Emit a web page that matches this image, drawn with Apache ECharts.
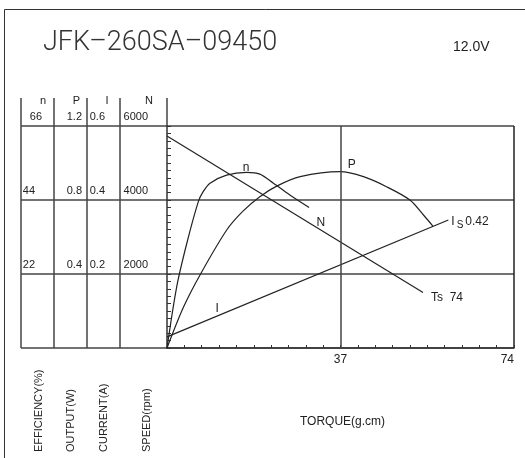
<!DOCTYPE html>
<html><head><meta charset="utf-8">
<script src="https://cdn.jsdelivr.net/npm/echarts@6/dist/echarts.min.js"></script>
<style>html,body{margin:0;padding:0;background:#fff}#c{width:525px;height:458px}</style>
</head><body><div id="c"></div>
<script>
// ---- texts ----
const titleText = 'JFK–260SA–09450';
const voltageText = '12.0V';
const columnHeaders = ['n', 'P', 'I', 'N'];
const columnTitles = ['EFFICIENCY(%)', 'OUTPUT(W)', 'CURRENT(A)', 'SPEED(rpm)'];
const xAxisTitle = 'TORQUE(g.cm)';
const stallTorqueText = 'Ts  74';
const stallCurrentText = '0.42';

// ---- axes ----
const torqueMax = 74, torqueStep = 3.7, torqueLabels = [37, 74];
const speedMax = 6000, speedStep = 2000, speedMinorStep = 200;
const currentMax = 0.6, currentStep = 0.2;
const powerMax = 1.2, powerStep = 0.4;
const effMax = 66, effStep = 22;
const midTorque = 37;

// ---- series values ----
const speedTorque = [0, 54.6];
const speedValues = [5730, 1500];
const currentTorque = [0, 60];
const currentValues = [0.030, 0.346];
const effTorque = [0, 2.07, 4.2, 6.68, 7.68, 9.17, 12.7, 17.0, 19.8, 22.7, 26.2, 30.3];
const effValues = [0, 18.2, 31.0, 43.5, 46.4, 49.0, 51.4, 52.2, 51.7, 49.0, 45.5, 41.8];
const powerTorque = [0, 3.5, 7.04, 12.73, 16.2, 19.8, 23.4, 28.4, 36.9, 41.9, 46.8, 51.8, 54.7, 56.7];
const powerValues = [0, 0.22, 0.395, 0.638, 0.74, 0.818, 0.875, 0.926, 0.953, 0.926, 0.872, 0.80, 0.719, 0.659];

// curve name labels: [torque, value]
const effNameAt = [16.85, 53.6];
const powerNameAt = [39.4, 0.989];
const speedNameAt = [32.8, 3386];
const currentNameAt = [10.7, 0.107];

const FONT = '"Liberation Sans", Arial, sans-serif';
const TITLE_FONT = 'Roboto, "Liberation Sans", sans-serif';
const INK = '#222';
const GRID = { left: 167, top: 126, width: 347, height: 222 };

function pairs(xs, ys) { return xs.map((x, i) => [x, ys[i]]); }
const fmt1 = v => Math.round(v * 10) / 10;

const chart = echarts.init(document.getElementById('c'), null, { renderer: 'canvas' });

const lineBase = { type: 'line', symbol: 'none', lineStyle: { color: INK, width: 1.2 }, animation: false, silent: true };

chart.setOption({
  animation: false,
  textStyle: { fontFamily: FONT, color: INK },
  grid: { left: GRID.left, top: GRID.top, width: GRID.width, height: GRID.height, containLabel: false },
  xAxis: {
    type: 'value', min: 0, max: torqueMax, interval: torqueStep,
    axisLine: { show: true, lineStyle: { color: '#333', width: 1.5 } },
    axisTick: { show: true, inside: true, length: 3, lineStyle: { color: '#333' } },
    splitLine: { show: false },
    axisLabel: {
      margin: 6, fontSize: 12, color: INK, fontFamily: FONT,
      alignMaxLabel: 'right',
      formatter: v => torqueLabels.indexOf(fmt1(v)) >= 0 ? String(fmt1(v)) : ''
    }
  },
  yAxis: [
    { // speed N
      type: 'value', min: 0, max: speedMax, interval: speedMinorStep, position: 'left', offset: 0,
      axisLine: { show: true, lineStyle: { color: '#333', width: 1.5 } },
      axisTick: { show: true, inside: true, length: 4, lineStyle: { color: '#333' } },
      splitLine: { show: false },
      axisLabel: {
        margin: 19, fontSize: 11, color: INK, fontFamily: FONT, verticalAlign: 'bottom', lineHeight: 18,
        formatter: v => (v > 0 && Math.round(v) % speedStep === 0) ? String(Math.round(v)) : ''
      }
    },
    { // current I
      type: 'value', min: 0, max: currentMax, interval: currentStep, position: 'left', offset: 0,
      axisLine: { show: false }, axisTick: { show: false }, splitLine: { show: false },
      axisLabel: {
        margin: 62, fontSize: 11, color: INK, fontFamily: FONT, verticalAlign: 'bottom', lineHeight: 18,
        formatter: v => v > 0 ? v.toFixed(1) : ''
      }
    },
    { // power P
      type: 'value', min: 0, max: powerMax, interval: powerStep, position: 'left', offset: 0,
      axisLine: { show: false }, axisTick: { show: false }, splitLine: { show: false },
      axisLabel: {
        margin: 85, fontSize: 11, color: INK, fontFamily: FONT, verticalAlign: 'bottom', lineHeight: 18,
        formatter: v => v > 0 ? v.toFixed(1) : ''
      }
    },
    { // efficiency n
      type: 'value', min: 0, max: effMax, interval: effStep, position: 'left', offset: 0,
      axisLine: { show: false }, axisTick: { show: false }, splitLine: { show: false },
      axisLabel: {
        margin: 125, fontSize: 11, color: INK, fontFamily: FONT, verticalAlign: 'bottom', lineHeight: 18,
        formatter: v => v <= 0 ? '' : (Math.round(v) === effMax ? '{a|' + Math.round(v) + '}' : '{b|' + Math.round(v) + '}'),
        rich: {
          a: { fontSize: 11, fontFamily: FONT, color: INK, lineHeight: 18 },
          b: { fontSize: 11, fontFamily: FONT, color: INK, lineHeight: 18, padding: [0, 7, 0, 0] }
        }
      }
    }
  ],
  series: [
    Object.assign({}, lineBase, {
      name: 'N', yAxisIndex: 0,
      data: pairs(speedTorque, speedValues),
      endLabel: { show: true, distance: 8, offset: [0, 5], formatter: stallTorqueText,
        fontSize: 12, fontFamily: FONT, color: INK },
      markLine: {
        silent: true, symbol: 'none', animation: false,
        label: { show: false },
        lineStyle: { color: '#444', width: 1.5, type: 'solid' },
        data: [{ xAxis: midTorque }]
      }
    }),
    Object.assign({}, lineBase, {
      name: 'I', yAxisIndex: 1,
      data: pairs(currentTorque, currentValues),
      endLabel: {
        show: true, distance: 3, offset: [0, 2],
        formatter: '{a|I}{b|S}{c|' + stallCurrentText + '}',
        rich: {
          a: { fontSize: 12, fontFamily: FONT, color: INK, lineHeight: 16 },
          b: { fontSize: 10, fontFamily: FONT, color: INK, lineHeight: 16, padding: [6, 2, 0, 2] },
          c: { fontSize: 12, fontFamily: FONT, color: INK, lineHeight: 16 }
        }
      }
    }),
    Object.assign({}, lineBase, {
      name: 'P', yAxisIndex: 2, smooth: 0.3,
      data: pairs(powerTorque, powerValues)
    }),
    Object.assign({}, lineBase, {
      name: 'n', yAxisIndex: 3, smooth: 0.3,
      data: pairs(effTorque, effValues)
    })
  ]
});

// decorations built from axis positions
const px = (yIdx, t, v) => chart.convertToPixel({ xAxisIndex: 0, yAxisIndex: yIdx }, [t, v]);
const x0 = px(0, 0, 0)[0], xEnd = px(0, torqueMax, 0)[0];
const yTop = px(0, 0, speedMax)[1], yBot = px(0, 0, 0)[1];
const tableLeft = 21, colLines = [21, 54, 87, 120], headerTop = 98;
const lineStyle = { stroke: '#444', lineWidth: 1.5 };
const g = [];
g.push({ type: 'rect', shape: { x: 4.5, y: 9.5, width: 800, height: 800 }, style: { fill: 'none', stroke: '#333', lineWidth: 1 }, silent: true });
[0, 2000, 4000, 6000].forEach(s => {
  const y = px(0, 0, s)[1];
  g.push({ type: 'line', shape: { x1: tableLeft, y1: y, x2: xEnd, y2: y }, style: lineStyle, silent: true });
});
colLines.forEach(x => g.push({ type: 'line', shape: { x1: x, y1: headerTop, x2: x, y2: yBot }, style: lineStyle, silent: true }));
g.push({ type: 'line', shape: { x1: x0, y1: headerTop, x2: x0, y2: yTop }, style: lineStyle, silent: true });
g.push({ type: 'line', shape: { x1: xEnd, y1: yTop, x2: xEnd, y2: yBot }, style: { stroke: '#222', lineWidth: 1.5 }, silent: true });

const headerX = [43, 76.5, 107, 149];
columnHeaders.forEach((h, i) => g.push({ type: 'text', x: headerX[i], y: 101, silent: true,
  style: { text: h, font: '11px ' + FONT, fill: INK, align: 'center', verticalAlign: 'middle' } }));
const colTitleX = [38.5, 70.5, 104, 147];
columnTitles.forEach((h, i) => g.push({ type: 'text', x: colTitleX[i], y: 452, rotation: Math.PI / 2, silent: true,
  style: { text: h, font: '11px ' + FONT, fill: INK, align: 'left', verticalAlign: 'middle' } }));
g.push({ type: 'text', x: (x0 + xEnd) / 2 + 2, y: 422, silent: true,
  style: { text: xAxisTitle, font: '12px ' + FONT, fill: INK, align: 'center', verticalAlign: 'middle' } });
g.push({ type: 'text', x: 43, y: 43, silent: true,
  style: { text: titleText, font: '300 27px ' + TITLE_FONT, fill: '#333', align: 'left', verticalAlign: 'middle' } });
g.push({ type: 'text', x: 453, y: 47, silent: true,
  style: { text: voltageText, font: '14px ' + FONT, fill: INK, align: 'left', verticalAlign: 'middle' } });

const nameLabels = [['n', 3, effNameAt], ['P', 2, powerNameAt], ['N', 0, speedNameAt], ['I', 1, currentNameAt]];
nameLabels.forEach(([t, idx, at]) => {
  const p = px(idx, at[0], at[1]);
  g.push({ type: 'text', x: p[0], y: p[1], silent: true,
    style: { text: t, font: '12px ' + FONT, fill: INK, align: 'center', verticalAlign: 'middle' } });
});
chart.setOption({ graphic: g });
</script></body></html>
